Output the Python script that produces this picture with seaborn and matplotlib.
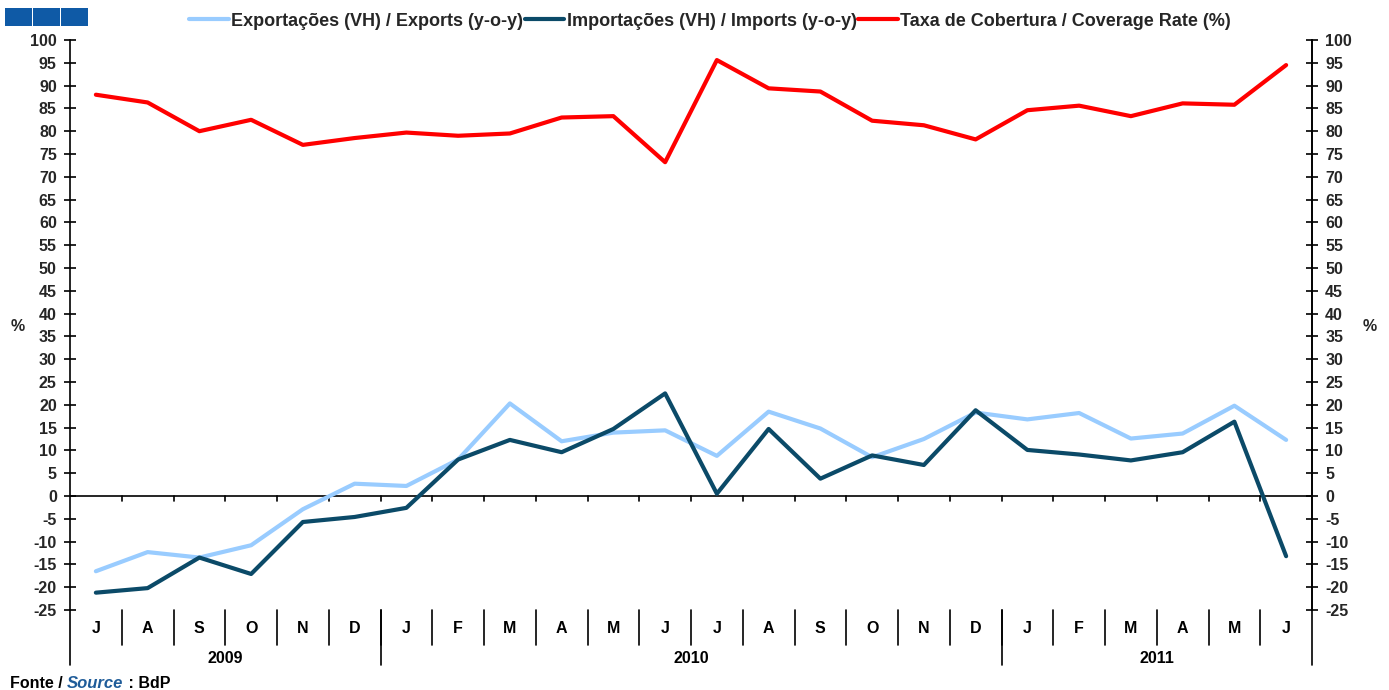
import numpy as np
import pandas as pd
import matplotlib
matplotlib.use("Agg")
import matplotlib.pyplot as plt
import matplotlib.transforms as mtransforms
from matplotlib.patches import Rectangle
from matplotlib.lines import Line2D
import seaborn as sns

# ---------------- data ----------------
months = ["J", "A", "S", "O", "N", "D",
          "J", "F", "M", "A", "M", "J", "J", "A", "S", "O", "N", "D",
          "J", "F", "M", "A", "M", "J"]
years = ["2009", "2010", "2011"]
year_first = [0, 6, 18]
year_last = [5, 17, 23]

exports = [-16.5, -12.3, -13.5, -10.8, -2.9, 2.7,
           2.2, 8.0, 20.3, 12.0, 13.9, 14.4, 8.8, 18.5, 14.8, 8.5, 12.5, 18.3,
           16.8, 18.2, 12.6, 13.7, 19.8, 12.3]
imports = [-21.2, -20.2, -13.5, -17.1, -5.7, -4.6,
           -2.6, 8.0, 12.3, 9.6, 14.7, 22.5, 0.5, 14.7, 3.8, 8.9, 6.8, 18.8,
           10.1, 9.1, 7.8, 9.6, 16.3, -13.2]
coverage = [88.0, 86.3, 80.0, 82.5, 77.0, 78.5,
            79.7, 79.0, 79.5, 83.0, 83.3, 73.2, 95.6, 89.4, 88.7, 82.3, 81.3, 78.2,
            84.6, 85.6, 83.3, 86.1, 85.8, 94.5]

lab_exp = "Exportações (VH) / Exports (y-o-y)"
lab_imp = "Importações (VH) / Imports (y-o-y)"
lab_cov = "Taxa de Cobertura / Coverage Rate (%)"

c_exp = "#99CCFF"
c_imp = "#0B4A68"
c_cov = "#FF0000"

df = pd.DataFrame({"x": np.arange(len(months)),
                   "exports": exports, "imports": imports, "coverage": coverage})

# ---------------- style ----------------
sns.set_theme(style="white")
plt.rcParams['font.family'] = ['Liberation Sans', 'DejaVu Sans']
plt.rcParams['font.weight'] = 'bold'

W, H = 1389, 690
fig = plt.figure(figsize=(W / 100, H / 100), dpi=100)
ax = fig.add_axes([70 / W, 80 / H, 1242 / W, 570 / H])

lw = 3.0
sns.lineplot(data=df, x="x", y="exports", color=c_exp, lw=lw, ax=ax, legend=False)
sns.lineplot(data=df, x="x", y="imports", color=c_imp, lw=lw, ax=ax, legend=False)
sns.lineplot(data=df, x="x", y="coverage", color=c_cov, lw=lw, ax=ax, legend=False)

n = len(months)
ax.set_xlim(-0.5, n - 0.5)
ax.set_ylim(-25, 100)
ax.set_xlabel("")
ax.set_ylabel("")
ax.set_xticks([])
yt = list(range(-25, 101, 5))
ax.set_yticks(yt)
ax.set_yticklabels([str(v) for v in yt])
ax.tick_params(axis='y', direction='inout', length=9, width=1.2, color='black',
               labelsize=11.5, pad=5, left=True)
for s in ["top", "bottom"]:
    ax.spines[s].set_visible(False)
for s in ["left", "right"]:
    ax.spines[s].set_visible(True)
    ax.spines[s].set_color("black")
    ax.spines[s].set_linewidth(1.2)

ax2 = ax.twinx()
ax2.set_ylim(ax.get_ylim())
ax2.set_yticks(yt)
ax2.set_yticklabels([str(v) for v in yt])
ax2.tick_params(axis='y', direction='inout', length=9, width=1.2, color='black',
                labelsize=11.5, pad=5, right=True)
for s in ["top", "bottom", "left"]:
    ax2.spines[s].set_visible(False)
ax2.spines["right"].set_color("black")
ax2.spines["right"].set_linewidth(1.2)
ax2.grid(False)
ax.grid(False)

# zero line with category ticks
ax.axhline(0, color="black", lw=1.2, zorder=1)
bounds = np.arange(0.5, n - 0.5, 1)
for b in bounds:
    ax.plot([b, b], [0, -1.2], color="black", lw=1.2, zorder=1)

# category axis below the plot
trans = mtransforms.blended_transform_factory(ax.transData, ax.transAxes)
for i, m in enumerate(months):
    ax.text(i, -0.032, m, transform=trans, ha="center", va="center",
            fontsize=11.5, fontweight="bold", color="black")
for b in bounds:
    ax.plot([b, b], [0, -0.061], transform=trans, color="black", lw=1.2, clip_on=False)
for yname, a, b in zip(years, year_first, year_last):
    ax.text((a + b) / 2, -0.085, yname, transform=trans, ha="center", va="center",
            fontsize=11.5, fontweight="bold", color="black")
for a in year_first[1:]:
    ax.plot([a - 0.5, a - 0.5], [0, -0.0965], transform=trans, color="black", lw=1.2, clip_on=False)
for xe in [-0.5, n - 0.5]:
    ax.plot([xe, xe], [0, -0.0965], transform=trans, color="black", lw=1.2, clip_on=False)

# % labels
fig.text(18 / W, 1 - 327 / H, "%", ha="center", va="center", fontsize=11.5, fontweight="bold")
fig.text(1370 / W, 1 - 327 / H, "%", ha="center", va="center", fontsize=11.5, fontweight="bold")

# legend
handles = [Line2D([], [], color=c_exp, lw=lw),
           Line2D([], [], color=c_imp, lw=lw),
           Line2D([], [], color=c_cov, lw=lw)]
fig.legend(handles, [lab_exp, lab_imp, lab_cov], loc="center", ncol=3,
           bbox_to_anchor=(710 / W, 1 - 21 / H), frameon=False,
           handlelength=2.2, handletextpad=0.12, columnspacing=0.1,
           prop={"weight": "bold", "size": 13})

# logo squares
for x0 in [5, 33, 61]:
    fig.add_artist(Rectangle((x0 / W, 1 - 26 / H), 27 / W, 18 / H,
                             transform=fig.transFigure, color="#0F5AA6", lw=0))

# source
fig.canvas.draw()
r = fig.canvas.get_renderer()
t1 = fig.text(10 / W, 1 - 683 / H, "Fonte / ", ha="left", va="center",
              fontsize=11.5, fontweight="bold", color="black")
bb = t1.get_window_extent(renderer=r)
t2 = fig.text(bb.x1 / W, 1 - 684 / H, "Source", ha="left", va="center",
              fontsize=12, fontweight="bold", style="italic", color="#1F5C99")
bb2 = t2.get_window_extent(renderer=r)
fig.text(bb2.x1 / W, 1 - 683 / H, " : BdP", ha="left", va="center",
         fontsize=11.5, fontweight="bold", color="black")

fig.savefig("out.png", dpi=100)
